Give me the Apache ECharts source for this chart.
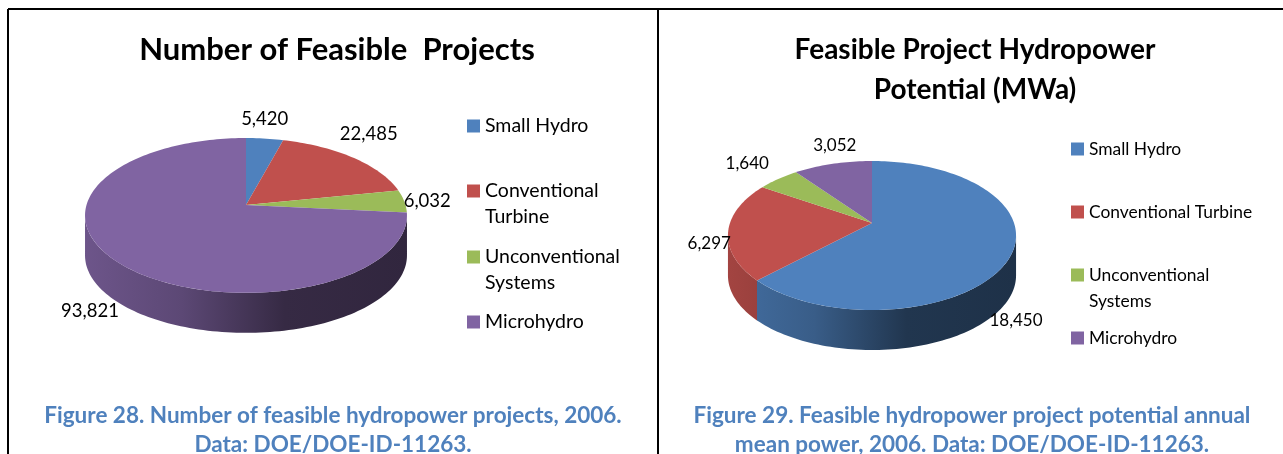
<!DOCTYPE html>
<html>
<head>
<meta charset="utf-8">
<style>html,body{margin:0;padding:0;background:#fff}#c{width:1283px;height:454px}</style>
<script src="https://cdn.jsdelivr.net/npm/echarts@6/dist/echarts.min.js"></script>
</head>
<body>
<div id="c"></div>
<script>
// ---- data ----
const categories = ['Small Hydro', 'Conventional Turbine', 'Unconventional Systems', 'Microhydro'];
const legendText = ['Small Hydro', 'Conventional\nTurbine', 'Unconventional\nSystems', 'Microhydro'];
const legendTextRight = ['Small Hydro', 'Conventional Turbine', 'Unconventional\nSystems', 'Microhydro'];
const projectCounts = [5420, 22485, 6032, 93821];
const potentialMWa = [18450, 6297, 1640, 3052];
const colors = ['#4f81bd', '#c0504d', '#9bbb59', '#8064a2'];

// ---- layout ----
const FONT = 'Lato, Carlito, "Open Sans", sans-serif';
const pieA = {cx: 246, cy: 205, R: 159.5, h: 76, k: 0.135, depth: 40,
  labelOffset: [[0, -20], [16, -23], [23, 0], [-26, 50]], fontSize: 18.5,
  legendX: 467, legendY: [126, 191, 257, 322], legendFont: 19.5};
const pieB = {cx: 872, cy: 223, R: 142, h: 72.4, k: 0.168, depth: 40,
  labelOffset: [[4, 67], [-19, 13], [-31, -15], [2, -18]], fontSize: 17,
  legendX: 1071, legendY: [149, 212, 275, 338], legendFont: 17.4};

// point on the rim of the tilted pie (simple perspective of a circle)
function rim(p, deg) {
  const a = deg * Math.PI / 180, s = 1 + p.k * Math.cos(a);
  return [p.cx + p.R * Math.sin(a) / s, p.cy - p.h * Math.cos(a) / s];
}
function arc(p, a0, a1, dy) {
  const n = Math.max(2, Math.ceil((a1 - a0) / 1.5)), pts = [];
  for (let i = 0; i <= n; i++) {
    const q = rim(p, a0 + (a1 - a0) * i / n);
    pts.push([q[0], q[1] + dy]);
  }
  return pts;
}
function shade(hex, f) {
  const n = parseInt(hex.slice(1), 16);
  return 'rgb(' + [(n >> 16) & 255, (n >> 8) & 255, n & 255].map(c => Math.round(c * f)).join(',') + ')';
}
function sliceSeries(p, values, idx) {
  const total = values.reduce((s, v) => s + v, 0);
  const before = values.slice(0, idx).reduce((s, v) => s + v, 0);
  const color = colors[idx];
  const edge = Math.asin(p.k) * 180 / Math.PI;
  const halfW = p.R / Math.sqrt(1 - p.k * p.k);
  return {
    type: 'custom', name: categories[idx], coordinateSystem: 'none',
    silent: true, animation: false, clip: false,
    itemStyle: {color: color},
    data: [[values[idx]]],
    renderItem: function (params, api) {
      const v = api.value(0);
      const a0 = before / total * 360, a1 = (before + v) / total * 360, mid = (a0 + a1) / 2;
      const children = [];
      const w0 = Math.max(a0, 90 + edge), w1 = Math.min(a1, 270 - edge);
      if (w1 > w0) {
        const upper = arc(p, w0, w1, 0), lower = arc(p, w0, w1, p.depth).reverse();
        children.push({
          type: 'polygon', z2: 1,
          shape: {points: upper.concat(lower)},
          style: {fill: {
            type: 'linear', global: true,
            x: p.cx - halfW, y: 0, x2: p.cx + halfW, y2: 0,
            colorStops: [
              {offset: 0, color: shade(color, 0.85)},
              {offset: 0.3, color: shade(color, 0.72)},
              {offset: 0.62, color: shade(color, 0.42)},
              {offset: 1, color: shade(color, 0.38)}
            ]
          }}
        });
      }
      children.push({
        type: 'polygon', z2: 2,
        shape: {points: [[p.cx, p.cy]].concat(arc(p, a0, a1, 0))},
        style: {fill: color}
      });
      const anchor = rim(p, mid), off = p.labelOffset[idx];
      children.push({
        type: 'text', z2: 3,
        style: {
          text: echarts.format.addCommas(v),
          x: anchor[0] + off[0], y: anchor[1] + off[1],
          align: 'center', verticalAlign: 'middle',
          font: p.fontSize + 'px ' + FONT, fill: '#000'
        }
      });
      return {type: 'group', children: children};
    }
  };
}
function legendsFor(p, texts) {
  return categories.map((name, i) => {
    // a leading blank line keeps the icon level with the first line of a wrapped label
    const wrapped = texts[i].indexOf('\n') >= 0;
    return {
      data: [name], left: p.legendX, top: p.legendY[i] - (wrapped ? 39 : 13), padding: 0,
      orient: 'vertical', icon: 'rect', itemWidth: 13, itemHeight: 13,
      selectedMode: false,
      formatter: () => (wrapped ? '\n' : '') + texts[i],
      textStyle: {fontFamily: FONT, fontSize: p.legendFont, color: '#000', lineHeight: 26}
    };
  });
}
const titleStyle = {fontFamily: FONT, fontWeight: 'bold', fontSize: 28, color: '#000', lineHeight: 40};
const titleStyleLarge = {fontFamily: FONT, fontWeight: 'bold', fontSize: 31, color: '#000', lineHeight: 40};
const captionStyle = {fontFamily: FONT, fontWeight: 'bold', fontSize: 22.5, color: '#4f81bd', lineHeight: 29};

const chart = echarts.init(document.getElementById('c'));
chart.setOption({
  backgroundColor: '#fff',
  animation: false,
  title: [
    {text: 'Number of Feasible  Projects', left: 337, top: 30, padding: 0, textAlign: 'center', textStyle: titleStyleLarge},
    {text: 'Feasible Project Hydropower\nPotential (MWa)', left: 975, top: 30, padding: 0, textAlign: 'center', textStyle: titleStyle},
    {text: 'Figure 28. Number of feasible hydropower projects, 2006.\nData: DOE/DOE-ID-11263.', left: 333, top: 401, padding: 0, textAlign: 'center', textStyle: captionStyle},
    {text: 'Figure 29. Feasible hydropower project potential annual\nmean power, 2006. Data: DOE/DOE-ID-11263.', left: 972, top: 401, padding: 0, textAlign: 'center', textStyle: captionStyle}
  ],
  legend: legendsFor(pieA, legendText).concat(legendsFor(pieB, legendTextRight)),
  series: categories.map((c, i) => sliceSeries(pieA, projectCounts, i))
    .concat(categories.map((c, i) => sliceSeries(pieB, potentialMWa, i))),
  graphic: [
    {type: 'line', shape: {x1: 8, y1: 9, x2: 1283, y2: 9}, style: {stroke: '#000', lineWidth: 2}},
    {type: 'line', shape: {x1: 8, y1: 9, x2: 8, y2: 454}, style: {stroke: '#000', lineWidth: 2}},
    {type: 'line', shape: {x1: 658, y1: 9, x2: 658, y2: 454}, style: {stroke: '#000', lineWidth: 2}}
  ]
});
</script>
</body>
</html>
